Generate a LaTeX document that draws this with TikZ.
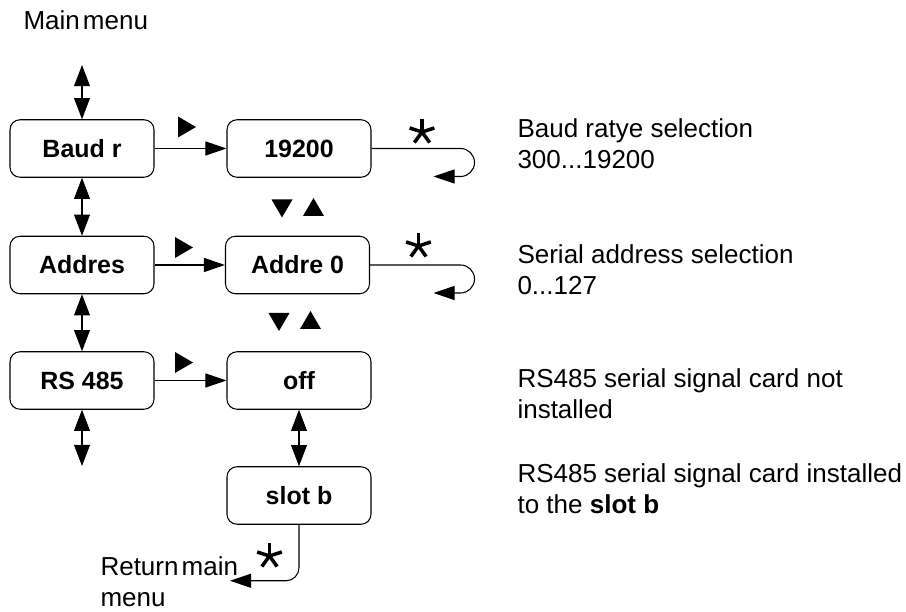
\documentclass[tikz,border=0pt]{standalone}
\usepackage{fontspec}
\setmainfont{Liberation Sans}
\usetikzlibrary{arrows.meta}

\begin{document}
\begin{tikzpicture}[line width=0.6pt,
  menubox/.style={draw,rounded corners=0.2cm,minimum width=2.88cm,
                  minimum height=1.15cm,inner sep=0pt,
                  font=\fontsize{14.2}{16}\selectfont\bfseries},
  note/.style={anchor=north west,inner sep=0pt,align=left,
               font=\fontsize{14.8}{17.9}\selectfont},
  arr/.style={-{Triangle[length=12pt,width=8pt]}},
  dbl/.style={{Triangle[length=12pt,width=9pt]}-{Triangle[length=12pt,width=9pt]}},
  ast/.pic={\foreach \a in {90,18,162,234,306}
              \draw[line width=2pt] (0,0) -- (\a:0.26);},
  tri/.pic={\fill (-0.21,-0.18) -- (0.21,-0.18) -- (0,0.18) -- cycle;},
]
\useasboundingbox (0,0) rectangle (18.12,12.24);

% left: main menu column
\node[note,anchor=base west] (mainmenu) at (0.46,11.64) {Main\hspace{0.12em}menu};
\coordinate (mtop) at (1.64,10.94);
\node[menubox] (baud) at (1.64,9.27) {Baud r};
\node[menubox] (addr) at (1.64,6.94) {Addres};
\node[menubox] (rs)   at (1.64,4.63) {RS 485};
\coordinate (mbot) at (1.64,2.92);

% middle: values
\node[menubox] (br)    at (5.98,9.27) {19200};
\node[menubox] (adval) at (5.95,6.94) {Addre 0};
\node[menubox] (off)   at (5.98,4.63) {off};
\node[menubox] (slot)  at (5.98,2.33) {slot b};
\node[note] (ret) at (2.0,1.12) {Return\hspace{0.12em}main\\menu};

\draw[dbl] (mtop) -- (baud);
\draw[dbl] (baud) -- (addr);
\draw[dbl] (addr) -- (rs);
\draw[dbl] (rs) -- (mbot);
\draw[dbl] (off) -- (slot);
\draw[arr] (baud) -- (br);
\draw[arr] (addr) -- (adval);
\draw[arr] (rs) -- (off);

% select loops
\draw[arr] (br.east) -- ++(1.78,0) arc[start angle=90,end angle=-90,radius=0.28] -- ++(-0.54,0);
\draw[arr] (adval.east) -- ++(1.81,0) arc[start angle=90,end angle=-90,radius=0.28] -- ++(-0.54,0);
\draw[arr] (slot.south) -- ++(0,-0.86) arc[start angle=0,end angle=-90,radius=0.26] -- ++(-1.12,0);

% key symbols
\pic[rotate=-90] at (3.74,9.70) {tri};
\pic[rotate=-90] at (3.68,7.29) {tri};
\pic[rotate=-90] at (3.68,4.99) {tri};
\pic[rotate=180] at (5.64,8.07) {tri};
\pic at (6.27,8.10) {tri};
\pic[rotate=180] at (5.58,5.80) {tri};
\pic at (6.21,5.84) {tri};
\pic at (8.44,9.60) {ast};
\pic at (8.37,7.32) {ast};
\pic at (5.39,1.12) {ast};

% right: notes
\node[note] (n1) at (10.34,9.88) {Baud ratye selection\\300...19200};
\node[note] (n2) at (10.34,7.36) {Serial address selection\\0...127};
\node[note] (n3) at (10.34,4.88) {RS485 serial signal card not\\installed};
\node[note] (n4) at (10.34,2.98) {RS485 serial signal card installed\\to the \textbf{slot b}};
\end{tikzpicture}
\end{document}
